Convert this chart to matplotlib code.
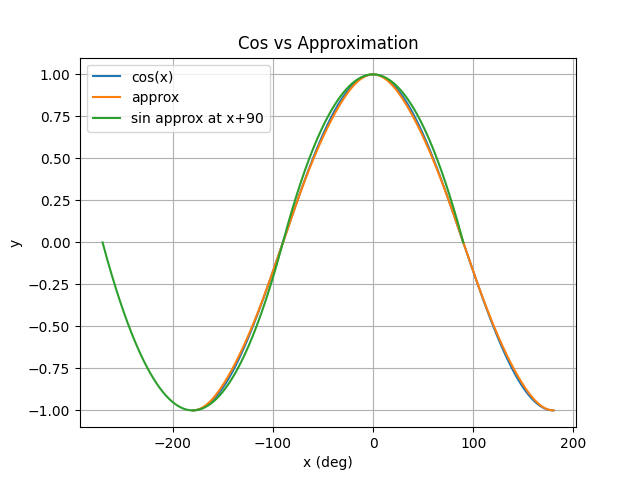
import numpy as np
import matplotlib
matplotlib.use("Agg")
import matplotlib.pyplot as plt

# x grid in degrees
x_deg = np.linspace(-180, 180, 361)
t_deg = np.linspace(-180, 180, 361)  # argument of sin approximation
x_green = t_deg - 90

cos_vals = np.cos(np.radians(x_deg))
approx_vals = cos_vals * (1 - 0.025 * np.sin(np.radians(2 * x_deg)) ** 2)
sin_approx_vals = 4 * t_deg * (180 - np.abs(t_deg)) / 180 ** 2

fig, ax = plt.subplots(figsize=(6.4, 4.8), dpi=100)
ax.plot(x_deg, cos_vals, label="cos(x)")
ax.plot(x_deg, approx_vals, label="approx")
ax.plot(x_green, sin_approx_vals, label="sin approx at x+90")
ax.set_title("Cos vs Approximation")
ax.set_xlabel("x (deg)")
ax.set_ylabel("y")
ax.grid(True)
ax.legend(loc="upper left")
fig.savefig("out.png")
